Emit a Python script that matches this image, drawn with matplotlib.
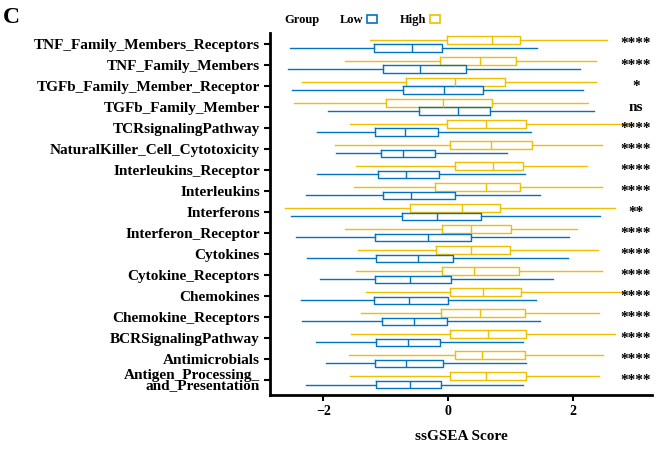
import matplotlib.pyplot as plt
from matplotlib.patches import Patch

plt.rcParams['font.family'] = ['Liberation Serif', 'DejaVu Serif']
plt.rcParams['font.weight'] = 'bold'

pathways = [
    "TNF_Family_Members_Receptors", "TNF_Family_Members",
    "TGFb_Family_Member_Receptor", "TGFb_Family_Member",
    "TCRsignalingPathway", "NaturalKiller_Cell_Cytotoxicity",
    "Interleukins_Receptor", "Interleukins", "Interferons",
    "Interferon_Receptor", "Cytokines", "Cytokine_Receptors",
    "Chemokines", "Chemokine_Receptors", "BCRSignalingPathway",
    "Antimicrobials", "Antigen_Processing_\nand_Presentation",
]
signif = ["****", "****", "*", "ns", "****", "****", "****", "****", "**",
          "****", "****", "****", "****", "****", "****", "****", "****"]

# whisker low, q1, median, q3, whisker high
low_stats = [
    (-2.54, -1.19, -0.58, -0.10, 1.42),
    (-2.56, -1.04, -0.45, 0.28, 2.10),
    (-2.50, -0.73, -0.07, 0.56, 2.16),
    (-1.92, -0.47, 0.16, 0.67, 2.33),
    (-2.10, -1.17, -0.70, -0.16, 1.32),
    (-1.80, -1.07, -0.72, -0.21, 0.94),
    (-2.10, -1.12, -0.68, -0.15, 1.23),
    (-2.28, -1.04, -0.60, 0.10, 1.46),
    (-2.51, -0.74, -0.18, 0.52, 2.42),
    (-2.43, -1.18, -0.32, 0.36, 1.93),
    (-2.26, -1.15, -0.49, 0.08, 1.92),
    (-2.05, -1.18, -0.62, 0.04, 1.68),
    (-2.36, -1.19, -0.63, 0.00, 1.40),
    (-2.34, -1.06, -0.55, -0.02, 1.47),
    (-2.12, -1.15, -0.64, -0.13, 1.20),
    (-1.96, -1.17, -0.67, -0.08, 1.25),
    (-2.27, -1.16, -0.62, -0.12, 1.19),
]
high_stats = [
    (-1.26, -0.02, 0.70, 1.15, 2.54),
    (-1.66, -0.14, 0.50, 1.09, 2.36),
    (-2.34, -0.68, 0.11, 0.90, 2.36),
    (-2.47, -1.00, -0.09, 0.70, 2.23),
    (-1.58, -0.02, 0.60, 1.25, 2.96),
    (-1.81, 0.02, 0.68, 1.34, 2.46),
    (-1.48, 0.10, 0.72, 1.20, 2.22),
    (-1.51, -0.22, 0.61, 1.15, 2.46),
    (-2.61, -0.62, 0.22, 0.83, 2.66),
    (-1.66, -0.10, 0.37, 1.00, 2.06),
    (-1.44, -0.20, 0.37, 0.98, 2.40),
    (-1.47, -0.10, 0.41, 1.13, 2.46),
    (-1.31, 0.02, 0.56, 1.17, 2.83),
    (-1.40, -0.12, 0.50, 1.23, 2.41),
    (-1.56, 0.03, 0.64, 1.25, 2.66),
    (-1.59, 0.10, 0.54, 1.22, 2.48),
    (-1.57, 0.02, 0.61, 1.25, 2.41),
]

groups = ["Low", "High"]
colors = {"Low": "#0073C2", "High": "#EFC000"}


def to_bxp(rows):
    return [dict(whislo=a, q1=b, med=c, q3=d, whishi=e, fliers=[]) for a, b, c, d, e in rows]


fig = plt.figure(figsize=(6.64, 4.53), dpi=100)
ax = fig.add_axes([0.407, 0.128, 0.575, 0.799])

n = len(pathways)
for name, stats, off in [("High", high_stats, -0.2), ("Low", low_stats, 0.2)]:
    c = colors[name]
    ax.bxp(to_bxp(stats), positions=[i + off for i in range(n)], vert=False,
           widths=0.36, showcaps=False, manage_ticks=False,
           boxprops=dict(color=c, linewidth=1.0),
           whiskerprops=dict(color=c, linewidth=1.0),
           medianprops=dict(color=c, linewidth=1.0))

for i, s in enumerate(signif):
    ax.text(3.0, i, s, ha='center', va='center', fontsize=11, fontweight='bold')

ax.set_yticks(range(n))
ax.set_yticklabels(pathways, fontsize=11, fontweight='bold', linespacing=0.78)
ax.set_ylim(16.7, -0.52)
ax.set_xlim(-2.85, 3.26)
ax.set_xticks([-2, 0, 2])
ax.tick_params(axis='x', labelsize=10, width=1.5, length=4)
ax.tick_params(axis='y', width=1.5, length=4)
for lab in ax.get_xticklabels():
    lab.set_fontweight('bold')
ax.set_xlabel("ssGSEA Score", fontsize=11, fontweight='bold', labelpad=8)
for sp in ['top', 'right']:
    ax.spines[sp].set_visible(False)
for sp in ['left', 'bottom']:
    ax.spines[sp].set_linewidth(2)

# legend: title inline, key after label
fig.text(0.429, 0.955, "Group", fontsize=9, fontweight='bold', va='center')
handles = [Patch(facecolor='white', edgecolor=colors[g], linewidth=1.2) for g in groups]
fig.legend(handles, groups, loc='center left', bbox_to_anchor=(0.495, 0.955),
           ncol=2, frameon=False, fontsize=9, handlelength=0.8, handleheight=0.6,
           columnspacing=1.8, handletextpad=0.3, markerfirst=False)
fig.text(0.005, 0.985, "C", fontsize=17, fontweight='bold', va='top')

fig.savefig("out.png", dpi=100)
